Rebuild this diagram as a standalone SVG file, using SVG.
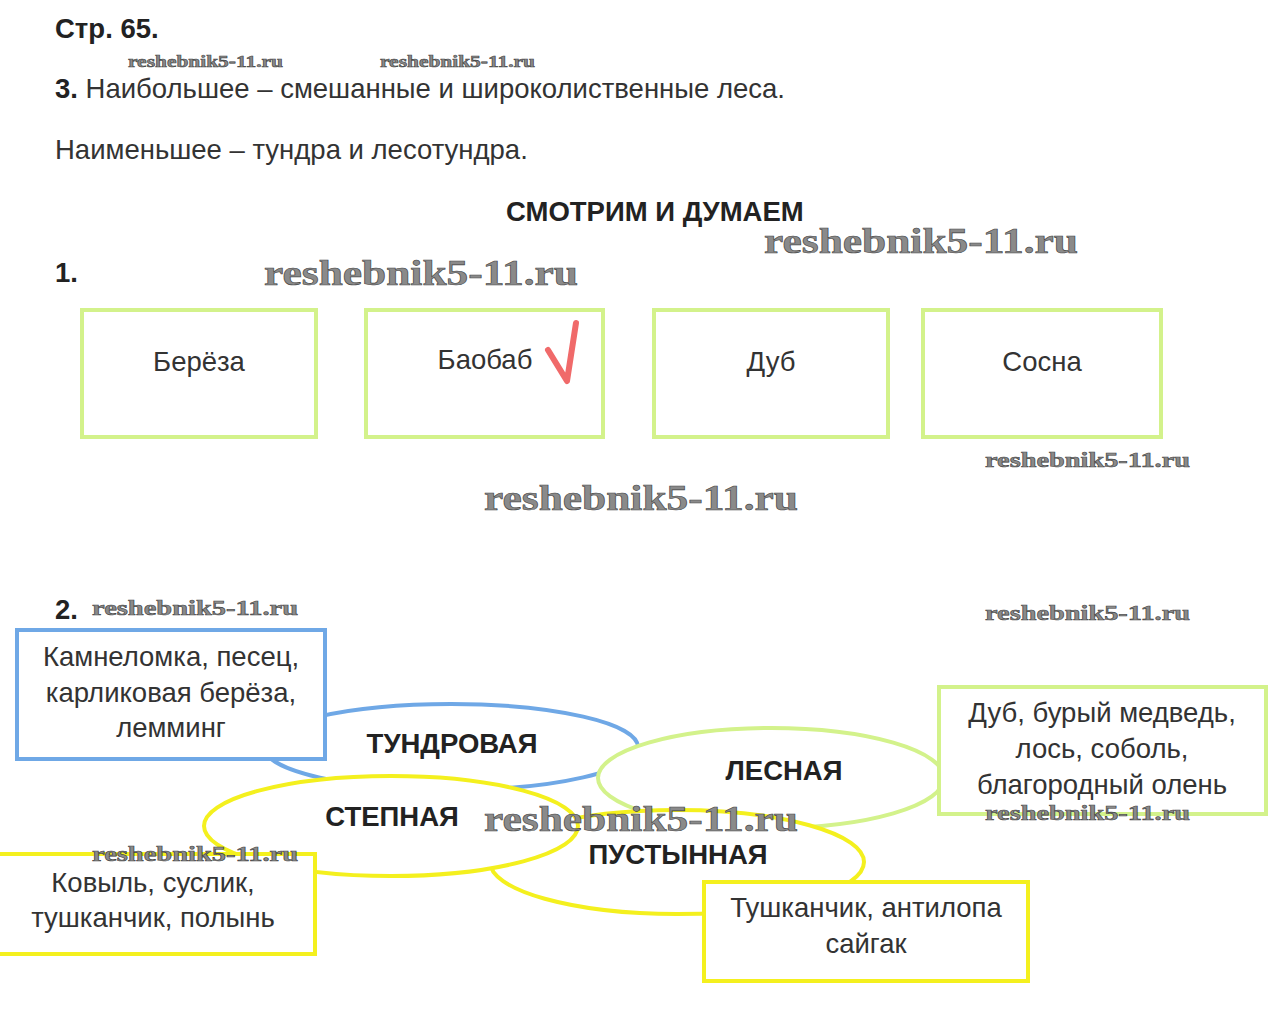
<svg xmlns="http://www.w3.org/2000/svg" width="1281" height="1033" viewBox="0 0 1281 1033">
<style>
.t{font-family:"Liberation Sans",Arial,sans-serif;font-size:27.5px;fill:#333}
.b{font-family:"Liberation Sans",Arial,sans-serif;font-size:27.5px;font-weight:bold;fill:#222}
.bl{font-family:"Liberation Sans",Arial,sans-serif;font-size:27.5px;font-weight:bold;fill:#222;text-anchor:middle}
.c{font-family:"Liberation Sans",Arial,sans-serif;font-size:27.5px;fill:#333;text-anchor:middle}
.w{font-family:"Liberation Serif","DejaVu Serif",serif;font-weight:bold;fill:#8a8a8a;stroke:#444;stroke-width:0.6}
.g{fill:#fff;stroke:#d3f28b;stroke-width:4}
.bb{fill:#fff;stroke:#6fa8e6;stroke-width:4}
.y{fill:#fff;stroke:#f4f01e;stroke-width:4}
</style>
<rect width="1281" height="1033" fill="#fff"/>
<text class="b" x="55" y="38">Стр. 65.</text>
<text class="w" x="128" y="67" font-size="17" textLength="155" lengthAdjust="spacingAndGlyphs">reshebnik5-11.ru</text>
<text class="w" x="380" y="67" font-size="17" textLength="155" lengthAdjust="spacingAndGlyphs">reshebnik5-11.ru</text>
<text class="t" x="55" y="98"><tspan font-weight="bold" fill="#222">3.</tspan> Наибольшее – смешанные и широколиственные леса.</text>
<text class="t" x="55" y="159">Наименьшее – тундра и лесотундра.</text>
<text class="b" x="506" y="221">СМОТРИМ И ДУМАЕМ</text>
<text class="w" x="764" y="253" font-size="36" textLength="314" lengthAdjust="spacingAndGlyphs">reshebnik5-11.ru</text>
<text class="b" x="55" y="282">1.</text>
<text class="w" x="264" y="285" font-size="36" textLength="314" lengthAdjust="spacingAndGlyphs">reshebnik5-11.ru</text>

<g id="box-bereza"><rect class="g" x="82" y="310" width="234" height="127"/><text class="c" x="199" y="371">Берёза</text></g>
<g id="box-baobab"><rect class="g" x="366" y="310" width="237" height="127"/><text class="c" x="485" y="369">Баобаб</text>
<path d="M548,350 L567,381 L576,323" fill="none" stroke="#f06a6a" stroke-width="6" stroke-linecap="round" stroke-linejoin="round"/></g>
<g id="box-dub"><rect class="g" x="654" y="310" width="234" height="127"/><text class="c" x="771" y="371">Дуб</text></g>
<g id="box-sosna"><rect class="g" x="923" y="310" width="238" height="127"/><text class="c" x="1042" y="371">Сосна</text></g>

<text class="w" x="985" y="467" font-size="22" textLength="205" lengthAdjust="spacingAndGlyphs">reshebnik5-11.ru</text>
<text class="w" x="484" y="510" font-size="36" textLength="314" lengthAdjust="spacingAndGlyphs">reshebnik5-11.ru</text>

<text class="b" x="55" y="619">2.</text>
<text class="w" x="92" y="615" font-size="22" textLength="206" lengthAdjust="spacingAndGlyphs">reshebnik5-11.ru</text>
<text class="w" x="985" y="620" font-size="22" textLength="205" lengthAdjust="spacingAndGlyphs">reshebnik5-11.ru</text>

<g id="ellipses">
<g id="tundra"><ellipse class="bb" cx="451" cy="747" rx="187" ry="43"/><text class="bl" x="452" y="753">ТУНДРОВАЯ</text></g>
<g id="lesnaya"><ellipse class="g" cx="771" cy="778" rx="173" ry="50"/><text class="bl" x="784" y="780">ЛЕСНАЯ</text></g>
<g id="pustynnaya"><ellipse class="y" cx="677" cy="862" rx="187" ry="52"/><text class="bl" x="678" y="864">ПУСТЫННАЯ</text></g>
<g id="stepnaya"><ellipse class="y" cx="391" cy="826" rx="187" ry="50"/><text class="bl" x="392" y="826">СТЕПНАЯ</text></g>
</g>

<g id="box-tundra"><rect class="bb" x="17" y="630" width="308" height="129"/>
<text class="c" x="171" y="666">Камнеломка, песец,</text><text class="c" x="171" y="702">карликовая берёза,</text><text class="c" x="171" y="737">лемминг</text></g>
<g id="box-les"><rect class="g" x="939" y="687" width="327" height="127"/>
<text class="c" x="1102" y="722">Дуб, бурый медведь,</text><text class="c" x="1102" y="758">лось, соболь,</text><text class="c" x="1102" y="794">благородный олень</text></g>
<g id="box-step"><rect class="y" x="-4" y="854" width="319" height="100"/>
<text class="c" x="153" y="892">Ковыль, суслик,</text><text class="c" x="153" y="927">тушканчик, полынь</text></g>
<g id="box-pust"><rect class="y" x="704" y="882" width="324" height="99"/>
<text class="c" x="866" y="917">Тушканчик, антилопа</text><text class="c" x="866" y="953">сайгак</text></g>

<text class="w" x="484" y="831" font-size="36" textLength="314" lengthAdjust="spacingAndGlyphs">reshebnik5-11.ru</text>
<text class="w" x="985" y="820" font-size="22" textLength="205" lengthAdjust="spacingAndGlyphs">reshebnik5-11.ru</text>
<text class="w" x="92" y="861" font-size="21" textLength="206" lengthAdjust="spacingAndGlyphs">reshebnik5-11.ru</text>
</svg>
